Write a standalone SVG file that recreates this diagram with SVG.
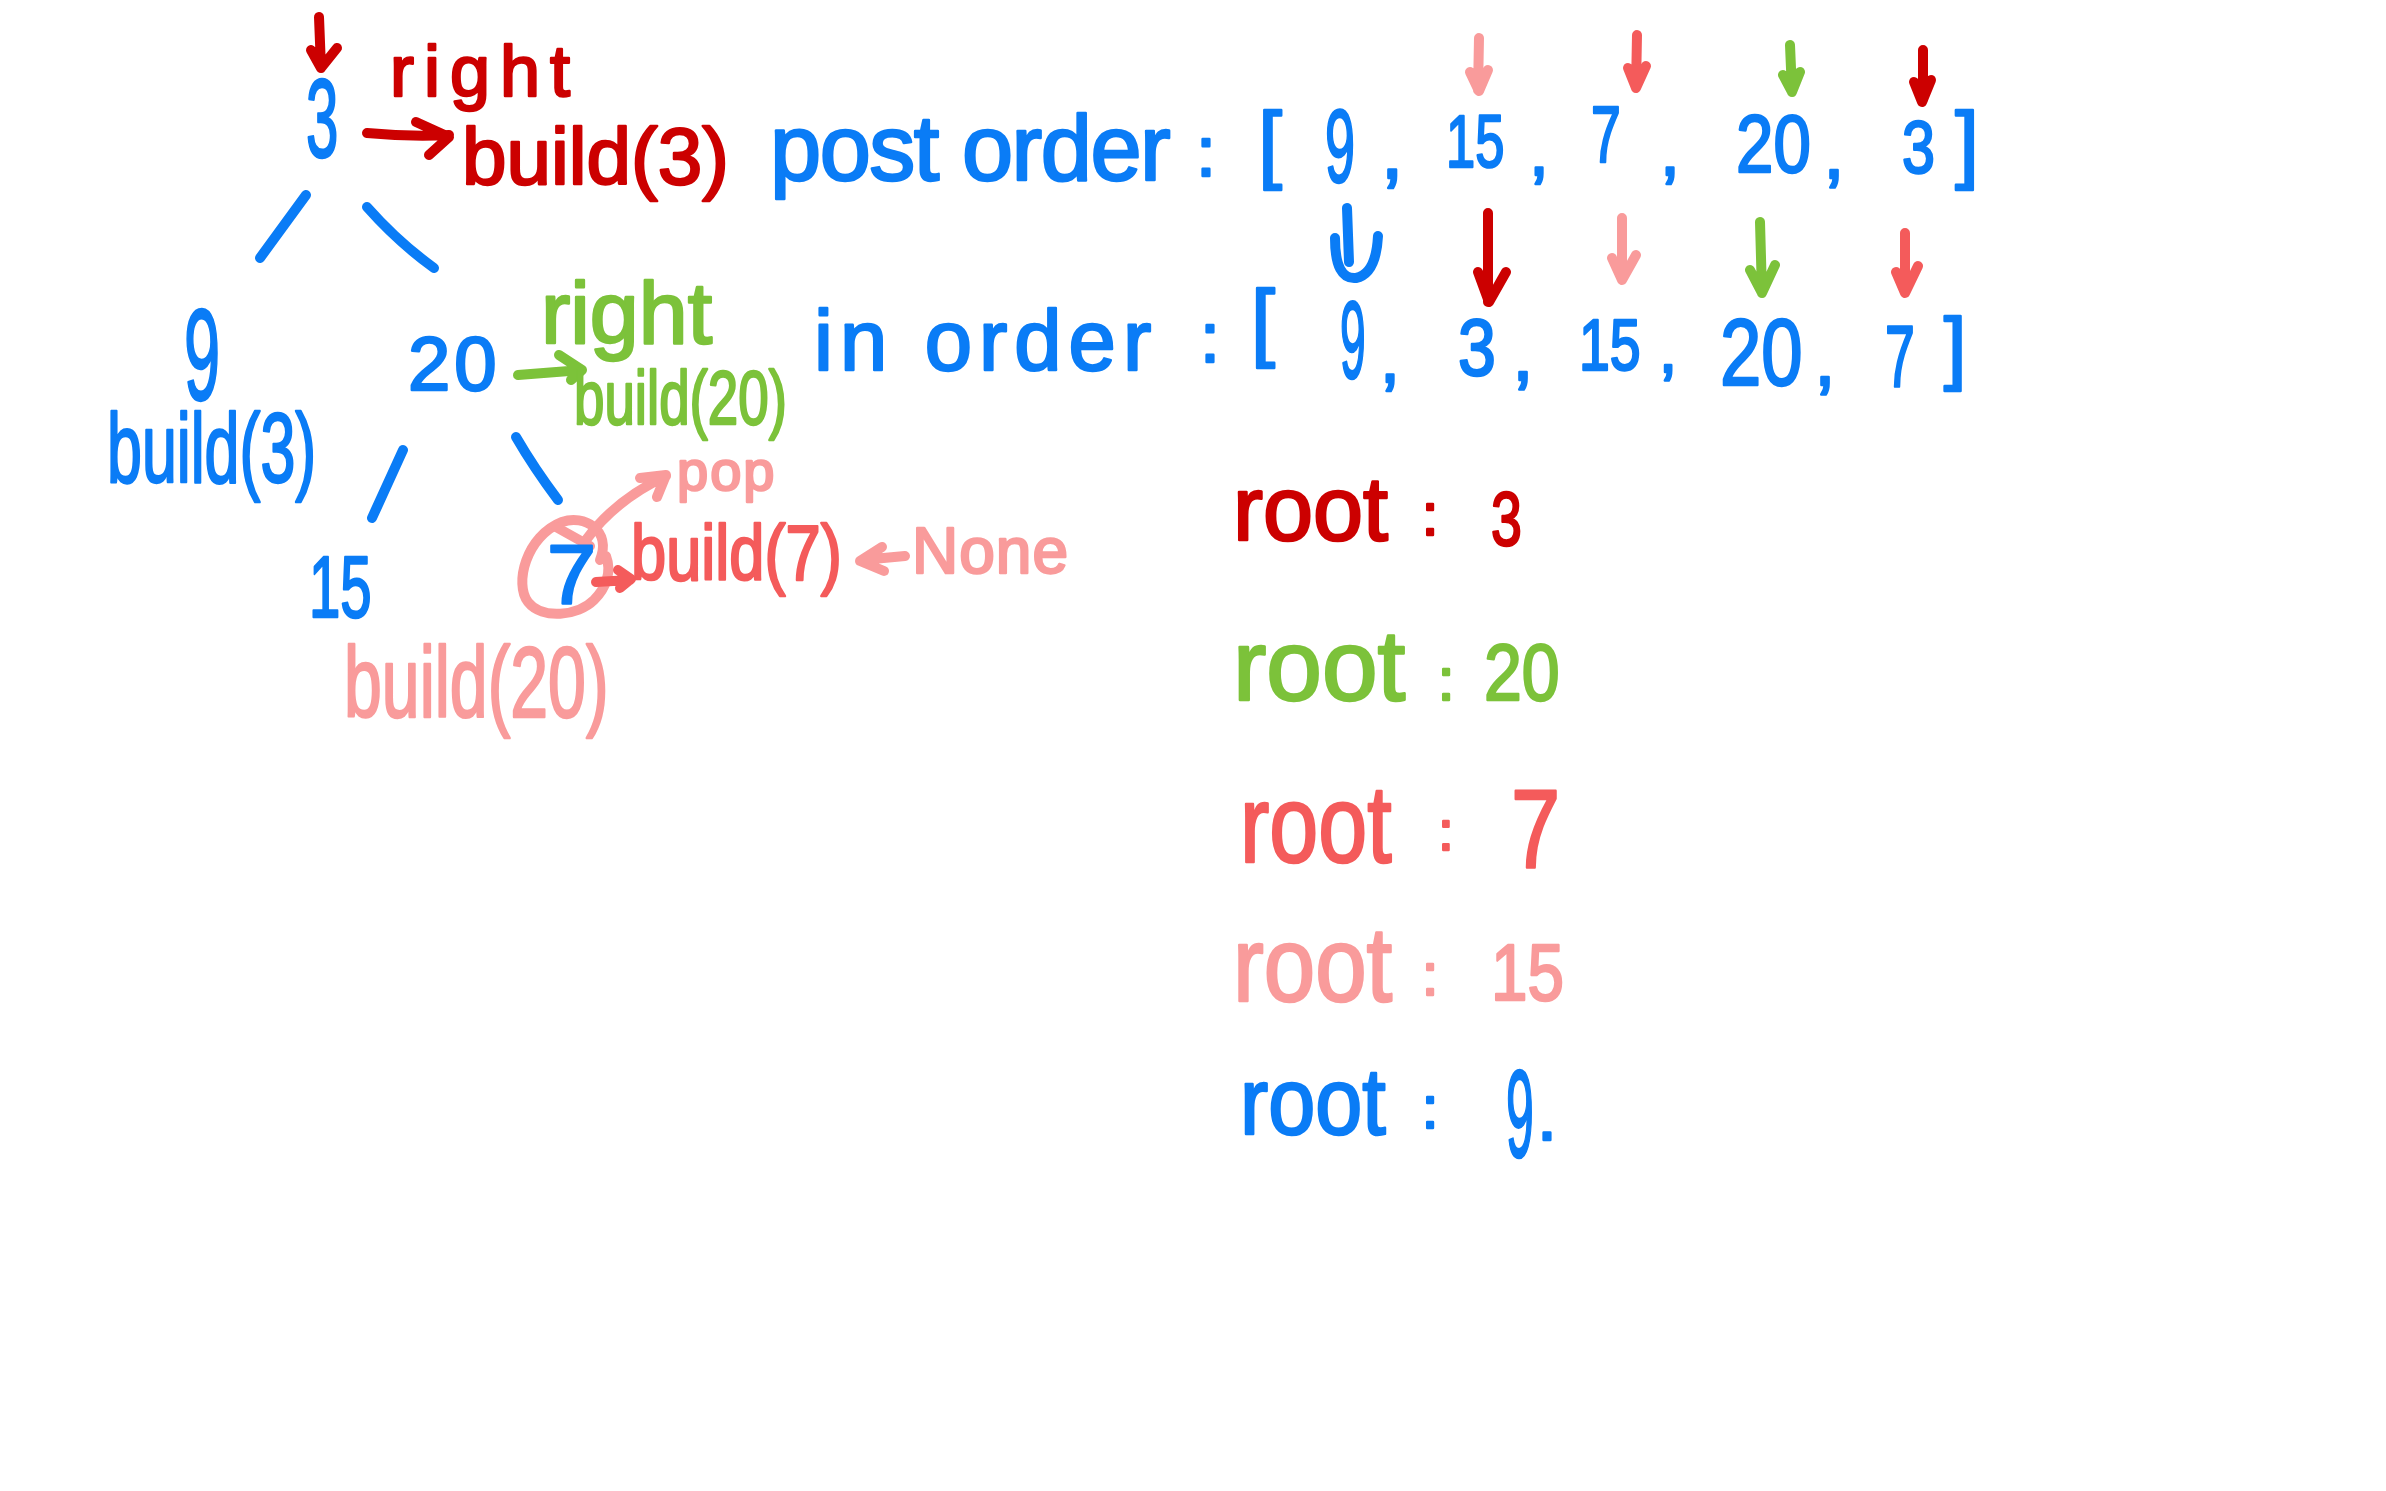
<svg xmlns="http://www.w3.org/2000/svg" width="2386" height="1491" viewBox="0 0 2386 1491">
<style>
text{font-family:"Liberation Sans","DejaVu Sans",sans-serif;stroke-width:2.5;stroke-linejoin:round;paint-order:stroke}
.b{fill:#0a7cf6;stroke:#0a7cf6}
.r{fill:#cc0000;stroke:#cc0000}
.g{fill:#7cc23a;stroke:#7cc23a}
.c{fill:#f45b5b;stroke:#f45b5b}
.p{fill:#f99b9b;stroke:#f99b9b}
.ln{fill:none;stroke-width:10;stroke-linecap:round;stroke-linejoin:round}
.lb{stroke:#0a7cf6}.lr{stroke:#cc0000}.lg{stroke:#7cc23a}.lc{stroke:#f45b5b}.lp{stroke:#f99b9b}
</style>
<rect width="2386" height="1491" fill="#ffffff"/>

<g id="connectors">
  <!-- tree edges -->
  <path class="ln lb" d="M306,195 L260,258"/>
  <path class="ln lb" d="M367,207 Q398,242 434,268"/>
  <path class="ln lb" d="M403,450 L372,518"/>
  <path class="ln lb" d="M516,437 Q534,468 558,500"/>
  <!-- root marker -->
  <path class="ln lr" d="M319,17 L321,68 M311,50 L321,68 L337,48"/>
  <!-- right arrows -->
  <path class="ln lr" d="M367,133 Q410,137 449,135 M416,122 L449,137 L429,155"/>
  <path class="ln lg" d="M518,375 L582,370 M559,355 L582,370 L571,380"/>
  <!-- circle around 7 and pop arrow -->
  <path class="ln lp" d="M600,560 C612,530 584,514 562,522 C526,536 514,584 528,602 C542,620 578,616 594,600 C606,588 612,572 606,556"/>
  <path class="ln lp" d="M556,527 L590,546 M586,540 Q615,500 666,476 M640,478 L666,475 L657,497"/>
  <path class="ln lc" d="M596,582 L630,580 M618,570 L631,579 L620,588"/>
  <path class="ln lp" d="M905,556 L862,560 M882,547 L860,561 L884,571"/>
  <!-- postorder pointers -->
  <path class="ln lp" d="M1479,38 L1478,90 M1470,72 L1479,91 L1488,70"/>
  <path class="ln lc" d="M1637,35 L1636,88 M1628,68 L1636,88 L1646,66"/>
  <path class="ln lg" d="M1790,45 L1792,92 M1783,75 L1792,92 L1800,72"/>
  <path class="ln lr" d="M1923,50 L1923,100 M1914,82 L1922,102 L1931,80"/>
  <!-- inorder pointers -->
  <path class="ln lb" d="M1347,208 L1349,262 M1335,238 Q1335,280 1356,278 Q1376,274 1378,236"/>
  <path class="ln lr" d="M1488,213 L1488,302 M1478,272 L1489,302 L1506,272"/>
  <path class="ln lp" d="M1622,218 L1622,280 M1612,258 L1622,280 L1636,255"/>
  <path class="ln lg" d="M1760,222 L1762,293 M1750,270 L1762,293 L1775,265"/>
  <path class="ln lc" d="M1905,233 L1905,293 M1896,272 L1905,293 L1918,266"/>
</g>

<g id="node-3"><text class="b" transform="translate(306,157) scale(0.52,1)" font-size="112">3</text></g>
<g id="label-right-3"><text class="r" x="390" y="96" font-size="72" letter-spacing="10">right</text></g>
<g id="label-build-3-red"><text class="r" x="462" y="184" font-size="80" letter-spacing="0">build(3)</text></g>

<g id="node-9"><text class="b" transform="translate(184,400) scale(0.5,1)" font-size="130">9</text></g>
<g id="label-build-3-blue"><text class="b" transform="translate(107,482) scale(0.64,1)" font-size="98">build(3)</text></g>

<g id="node-20"><text class="b" x="408" y="390" font-size="76" letter-spacing="4">20</text></g>
<g id="label-right-20"><text class="g" x="541" y="343" font-size="88" letter-spacing="0">right</text></g>
<g id="label-build-20-green"><text class="g" transform="translate(574,424) scale(0.72,1)" font-size="76">build(20)</text></g>

<g id="node-15"><text class="b" transform="translate(309,617) scale(0.64,1)" font-size="88">15</text></g>
<g id="node-7"><text class="b" transform="translate(547,603) scale(1.05,1)" font-size="84">7</text></g>
<g id="label-pop"><text class="p" x="677" y="490" font-size="56" letter-spacing="2">pop</text></g>
<g id="label-build-7"><text class="c" transform="translate(631,580) scale(0.81,1)" font-size="78">build(7)</text></g>
<g id="label-none"><text class="p" x="912" y="573" font-size="64" letter-spacing="1">None</text></g>
<g id="label-build-20-pink"><text class="p" transform="translate(344,717) scale(0.68,1)" font-size="100">build(20)</text></g>

<g id="postorder">
  <text class="b" x="770" y="180" font-size="92" letter-spacing="-1.5">post order</text>
  <text class="b" x="1206" y="176" font-size="70" text-anchor="middle">:</text>
  <text class="b" x="1270" y="172" font-size="85" text-anchor="middle">[</text>
  <text class="b" transform="translate(1325,182) scale(0.52,1)" font-size="104">9</text>
  <text class="b" x="1392" y="178" font-size="80" text-anchor="middle">,</text>
  <text class="b" transform="translate(1446,167) scale(0.70,1)" font-size="75">15</text>
  <text class="b" x="1539" y="175" font-size="70" text-anchor="middle">,</text>
  <text class="b" transform="translate(1591,162) scale(0.67,1)" font-size="80">7</text>
  <text class="b" x="1670" y="175" font-size="70" text-anchor="middle">,</text>
  <text class="b" transform="translate(1736,172) scale(0.82,1)" font-size="82">20</text>
  <text class="b" x="1834" y="178" font-size="75" text-anchor="middle">,</text>
  <text class="b" transform="translate(1902,173) scale(0.80,1)" font-size="74">3</text>
  <text class="b" x="1967" y="172" font-size="85" text-anchor="middle">]</text>
</g>

<g id="inorder">
  <text class="b" x="814" y="370" font-size="85" letter-spacing="7">in order</text>
  <text class="b" x="1210" y="362" font-size="70" text-anchor="middle">:</text>
  <text class="b" x="1263" y="350" font-size="86" text-anchor="middle">[</text>
  <text class="b" transform="translate(1340,378) scale(0.42,1)" font-size="110">9</text>
  <text class="b" x="1390" y="382" font-size="70" text-anchor="middle">,</text>
  <text class="b" transform="translate(1458,375) scale(0.85,1)" font-size="80">3</text>
  <text class="b" x="1523" y="380" font-size="75" text-anchor="middle">,</text>
  <text class="b" transform="translate(1579,370) scale(0.77,1)" font-size="72">15</text>
  <text class="b" x="1668" y="372" font-size="65" text-anchor="middle">,</text>
  <text class="b" transform="translate(1720,385) scale(0.79,1)" font-size="94">20</text>
  <text class="b" x="1825" y="385" font-size="75" text-anchor="middle">,</text>
  <text class="b" transform="translate(1885,387) scale(0.61,1)" font-size="88">7</text>
  <text class="b" x="1955" y="374" font-size="80" text-anchor="middle">]</text>
</g>

<g id="root-3">
  <text class="r" x="1233" y="540" font-size="90">root</text>
  <text class="r" x="1430" y="535" font-size="60" text-anchor="middle">:</text>
  <text class="r" transform="translate(1491,545) scale(0.73,1)" font-size="76">3</text>
</g>
<g id="root-20">
  <text class="g" x="1233" y="700" font-size="100">root</text>
  <text class="g" x="1446" y="700" font-size="60" text-anchor="middle">:</text>
  <text class="g" transform="translate(1484,700) scale(0.85,1)" font-size="80">20</text>
</g>
<g id="root-7">
  <text class="c" transform="translate(1240,862) scale(0.8,1)" font-size="110">root</text>
  <text class="c" x="1446" y="850" font-size="55" text-anchor="middle">:</text>
  <text class="c" transform="translate(1511,867) scale(0.79,1)" font-size="112">7</text>
</g>
<g id="root-15">
  <text class="p" transform="translate(1233,1001) scale(0.88,1)" font-size="105">root</text>
  <text class="p" x="1430" y="995" font-size="60" text-anchor="middle">:</text>
  <text class="p" transform="translate(1491,1000) scale(0.82,1)" font-size="80">15</text>
</g>
<g id="root-9">
  <text class="b" transform="translate(1240,1134) scale(0.89,1)" font-size="95">root</text>
  <text class="b" x="1430" y="1128" font-size="60" text-anchor="middle">:</text>
  <text class="b" transform="translate(1506,1157) scale(0.40,1)" font-size="125">9</text>
  <text class="b" x="1547" y="1140" font-size="70" text-anchor="middle">.</text>
</g>
</svg>
